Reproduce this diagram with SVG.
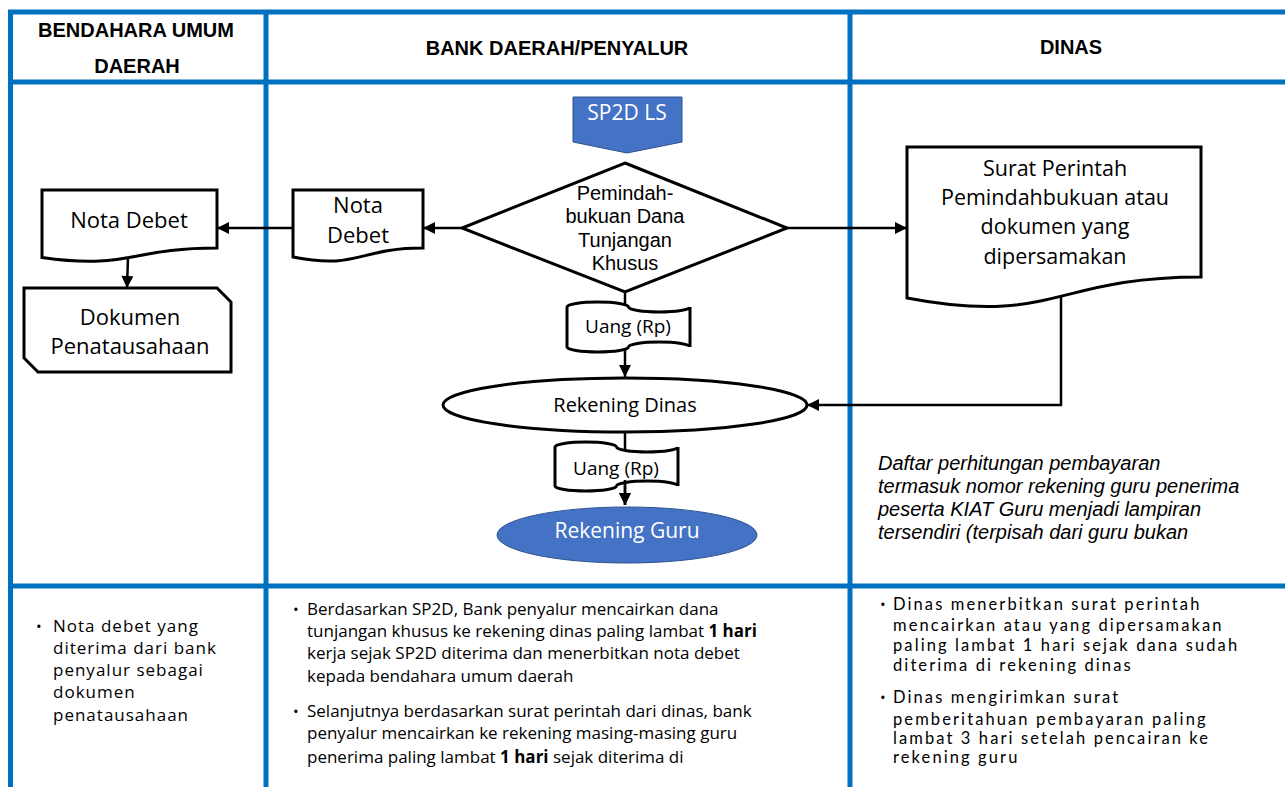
<svg xmlns="http://www.w3.org/2000/svg" width="1285" height="787" viewBox="0 0 1285 787">
  <defs>
    <marker id="arrow" viewBox="0 0 10 10" refX="10" refY="5" markerUnits="userSpaceOnUse" markerWidth="13" markerHeight="12" orient="auto">
      <path d="M0,0 L10,5 L0,10 Z" fill="#000"/>
    </marker>
    <style>
      .lane { stroke: #0070C0; stroke-width: 5; fill: none; }
      .head { font-family: "Liberation Sans", Arial, sans-serif; font-weight: bold; font-size: 20px; fill: #000; text-anchor: middle; }
      .shape { fill: #fff; stroke: #000; stroke-width: 3; }
      .blue { fill: #4472C4; stroke: #2F528F; stroke-width: 1; }
      .conn { fill: none; stroke: #000; stroke-width: 2.5; marker-end: url(#arrow); }
      .lbl { font-family: "Open Sans", "Noto Sans", sans-serif; fill: #000; text-anchor: middle; }
      .arial { font-family: "Liberation Sans", Arial, sans-serif; fill: #000; text-anchor: middle; }
      .note { font-family: "Liberation Sans", Arial, sans-serif; font-style: italic; font-size: 20px; fill: #000; }
      .c1 { font-family: "Open Sans", "Noto Sans", sans-serif; font-size: 17px; letter-spacing: 1px; fill: #000; }
      .c2 { font-family: "Open Sans", "Noto Sans", sans-serif; font-size: 17px; fill: #000; }
      .c3 { font-family: Lato, "Open Sans", sans-serif; font-size: 16.5px; letter-spacing: 2.1px; fill: #000; }
      .dot { font-family: "Open Sans", "Noto Sans", sans-serif; font-size: 15px; fill: #000; }
      .b { font-weight: bold; }
    </style>
  </defs>

  <rect width="1285" height="787" fill="#fff"/>

  <!-- swimlane grid -->
  <g id="lanes">
    <line class="lane" x1="8" y1="12" x2="1285" y2="12"/>
    <line class="lane" x1="8" y1="82" x2="1285" y2="82"/>
    <line class="lane" x1="8" y1="586" x2="1285" y2="586"/>
    <line class="lane" x1="10.5" y1="10" x2="10.5" y2="787"/>
    <line class="lane" x1="266" y1="10" x2="266" y2="787"/>
    <line class="lane" x1="850" y1="10" x2="850" y2="787"/>
  </g>

  <g id="headers">
    <text class="head" x="136" y="37">BENDAHARA UMUM</text>
    <text class="head" x="137" y="73">DAERAH</text>
    <text class="head" x="557" y="55">BANK DAERAH/PENYALUR</text>
    <text class="head" x="1071" y="54">DINAS</text>
  </g>

  <!-- connectors -->
  <g id="connectors">
    <path class="conn" d="M462,228 H423"/>
    <path class="conn" d="M293,228 H217"/>
    <path class="conn" d="M128,257 L127,288"/>
    <path class="conn" d="M787,228 H907"/>
    <path class="conn" d="M625,292 V377"/>
    <path class="conn" d="M1061,297 V405 H807"/>
    <path class="conn" d="M625,432 V505"/>
  </g>

  <g id="sp2d">
    <polygon class="blue" points="573,97 682,97 682,142 627,153 573,142"/>
    <text class="lbl" x="627" y="120" font-size="21" style="fill:#fff">SP2D LS</text>
  </g>

  <g id="decision">
    <polygon class="shape" points="625,163 787,228 625,292 462,228"/>
    <text class="arial" font-size="20" x="625" y="200">Pemindah-</text>
    <text class="arial" font-size="20" x="625" y="223">bukuan Dana</text>
    <text class="arial" font-size="20" x="625" y="247">Tunjangan</text>
    <text class="arial" font-size="20" x="625" y="270">Khusus</text>
  </g>

  <g id="nota-debet-bank">
    <path class="shape" d="M293,190 H423 V248 C358,248 358,270 293,257 Z"/>
    <text class="lbl" font-size="22" x="358" y="213">Nota</text>
    <text class="lbl" font-size="22" x="358" y="243">Debet</text>
  </g>

  <g id="nota-debet-bud">
    <path class="shape" d="M42,190 H217 V248 C129.5,248 129.5,270 42,257.5 Z"/>
    <text class="lbl" font-size="22" x="129" y="228">Nota Debet</text>
  </g>

  <g id="dokumen">
    <polygon class="shape" points="24,288 217,288 231,302 231,372 38,372 24,358"/>
    <text class="lbl" font-size="22" x="130" y="325">Dokumen</text>
    <text class="lbl" font-size="22" x="130" y="354">Penatausahaan</text>
  </g>

  <g id="surat-perintah">
    <path class="shape" d="M907,147 H1201 V277 C1054,277 1054,326 907,298 Z"/>
    <text class="lbl" font-size="21.5" x="1055" y="176">Surat Perintah</text>
    <text class="lbl" font-size="21.5" x="1055" y="205">Pemindahbukuan atau</text>
    <text class="lbl" font-size="21.5" x="1055" y="234">dokumen yang</text>
    <text class="lbl" font-size="21.5" x="1055" y="264">dipersamakan</text>
  </g>

  <g id="uang-1">
    <path class="shape" d="M567,307 A30.75,5 0 0 1 628.5,307 A30.75,5 0 0 0 690,307 V347 A30.75,5 0 0 0 628.5,347 A30.75,5 0 0 1 567,347 Z"/>
    <text class="lbl" font-size="19" x="628" y="333">Uang (Rp)</text>
  </g>

  <g id="rekening-dinas">
    <ellipse class="shape" cx="625" cy="405" rx="182" ry="27"/>
    <text class="lbl" font-size="20" x="625" y="412">Rekening Dinas</text>
  </g>

  <g id="uang-2">
    <path class="shape" d="M555,447 A30.75,5 0 0 1 616.5,447 A30.75,5 0 0 0 678,447 V486 A30.75,5 0 0 0 616.5,486 A30.75,5 0 0 1 555,486 Z"/>
    <text class="lbl" font-size="19" x="616" y="475">Uang (Rp)</text>
  </g>

  <!-- arrow tip into Rekening Guru drawn over the tape -->
  <g id="rekening-guru">
    <path class="conn" d="M625,480 V505"/>
    <ellipse class="blue" cx="627" cy="535" rx="130" ry="28"/>
    <text class="lbl" font-size="21" x="627" y="538" style="fill:#fff">Rekening Guru</text>
  </g>

  <g id="catatan">
    <text class="note" x="878" y="470">Daftar perhitungan pembayaran</text>
    <text class="note" x="878" y="493">termasuk nomor rekening guru penerima</text>
    <text class="note" x="878" y="516">peserta KIAT Guru menjadi lampiran</text>
    <text class="note" x="878" y="539">tersendiri (terpisah dari guru bukan</text>
  </g>

  <!-- lane descriptions -->
  <g id="ket-bud">
    <text class="dot" x="36" y="632">•</text>
    <text class="c1" x="53" y="632">Nota debet yang</text>
    <text class="c1" x="53" y="654">diterima dari bank</text>
    <text class="c1" x="53" y="676">penyalur sebagai</text>
    <text class="c1" x="53" y="698">dokumen</text>
    <text class="c1" x="53" y="721">penatausahaan</text>
  </g>

  <g id="ket-bank">
    <text class="dot" x="293" y="615">•</text>
    <text class="c2" x="307" y="615">Berdasarkan SP2D, Bank penyalur mencairkan dana</text>
    <text class="c2" x="307" y="637">tunjangan khusus ke rekening dinas paling lambat <tspan class="b">1 hari</tspan></text>
    <text class="c2" x="307" y="659">kerja sejak SP2D diterima dan menerbitkan nota debet</text>
    <text class="c2" x="307" y="682">kepada bendahara umum daerah</text>
    <text class="dot" x="293" y="717">•</text>
    <text class="c2" x="307" y="717">Selanjutnya berdasarkan surat perintah dari dinas, bank</text>
    <text class="c2" x="307" y="739">penyalur mencairkan ke rekening masing-masing guru</text>
    <text class="c2" x="307" y="763">penerima paling lambat <tspan class="b">1 hari</tspan> sejak diterima di</text>
  </g>

  <g id="ket-dinas">
    <text class="dot" x="880" y="610">•</text>
    <text class="c3" x="893" y="610">Dinas menerbitkan surat perintah</text>
    <text class="c3" x="893" y="631">mencairkan atau yang dipersamakan</text>
    <text class="c3" x="893" y="651">paling lambat 1 hari sejak dana sudah</text>
    <text class="c3" x="893" y="671">diterima di rekening dinas</text>
    <text class="dot" x="880" y="703">•</text>
    <text class="c3" x="893" y="703">Dinas mengirimkan surat</text>
    <text class="c3" x="893" y="725">pemberitahuan pembayaran paling</text>
    <text class="c3" x="893" y="744">lambat 3 hari setelah pencairan ke</text>
    <text class="c3" x="893" y="763">rekening guru</text>
  </g>
</svg>
